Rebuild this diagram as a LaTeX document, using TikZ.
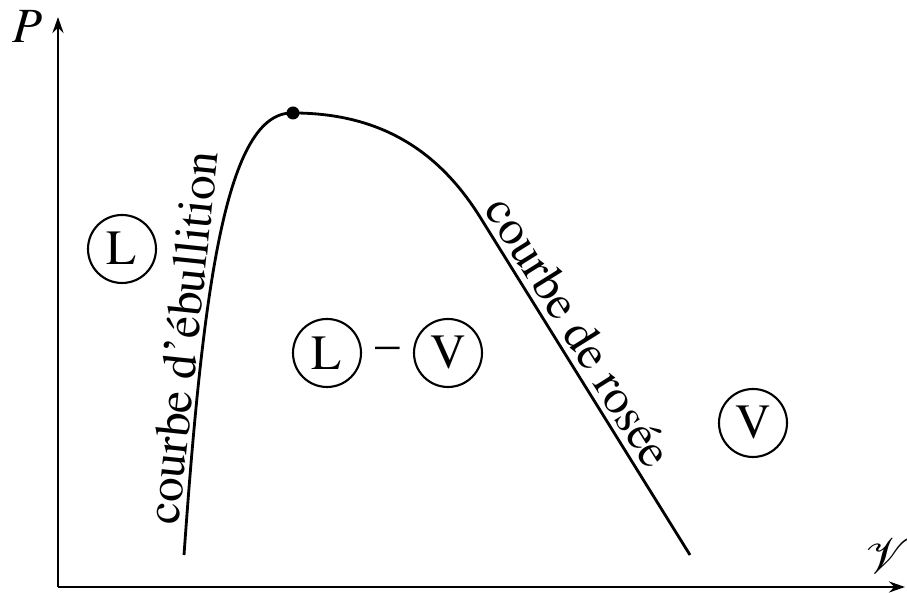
\documentclass[tikz,border=0pt]{standalone}
\usepackage[T1]{fontenc}
\usepackage{mathptmx}
\usepackage{tikz}
\usetikzlibrary{arrows.meta,positioning,calc}

\begin{document}
\begin{tikzpicture}[
    phase/.style={circle, draw=black, line width=0.6pt, minimum size=0.68cm, inner sep=0pt, font=\fontsize{14}{16}\selectfont},
    courbe/.style={line width=0.8pt},
    lbl/.style={font=\fontsize{14}{16}\selectfont, inner sep=1.5pt}
]
\useasboundingbox (-0.58,-0.06) rectangle (8.49,5.87);

% axes
\coordinate (O) at (0,0);
\coordinate (ymax) at (0,5.70);
\coordinate (xmax) at (8.47,0);
\draw[line width=0.8pt, -{Stealth[length=0.16cm, width=0.11cm]}] (O) -- (ymax);
\draw[line width=0.8pt, -{Stealth[length=0.16cm, width=0.11cm]}] (O) -- (xmax);
\node[font=\fontsize{14}{16}\selectfont] (P) at (-0.30,5.60) {$P$};
\node[font=\fontsize{14}{16}\selectfont] (v) at (8.30,0.31) {$\mathcal{V}$};

% courbes d'ebullition et de rosee
\node[circle, fill=black, inner sep=0pt, minimum size=0.13cm] (C) at (2.35,4.74) {};
\coordinate (Eb) at (1.26,0.32);
\coordinate (Ro) at (6.32,0.32);
\draw[courbe] (Eb) .. controls (1.45,3.0) and (1.68,4.76) .. (C.center);
\draw[courbe] (C.center) .. controls (3.3,4.74) and (3.85,4.29) .. (4.22,3.70) -- (Ro);

\node[lbl, rotate=84, anchor=south] (eb) at (1.47,2.47) {courbe d'\'ebullition};
\node[lbl, rotate=-58, anchor=south] (ro) at (5.02,2.43) {courbe de ros\'ee};

% domaines
\node[phase] (Lg) at (0.64,3.38) {L};
\node[phase] (Lm) at (2.69,2.34) {L};
\node[phase] (Vm) at (3.90,2.34) {V};
\node[lbl] (tiret) at ($(Lm)!0.5!(Vm)$) {--};
\node[phase] (Vd) at (6.95,1.64) {V};
\end{tikzpicture}
\end{document}
